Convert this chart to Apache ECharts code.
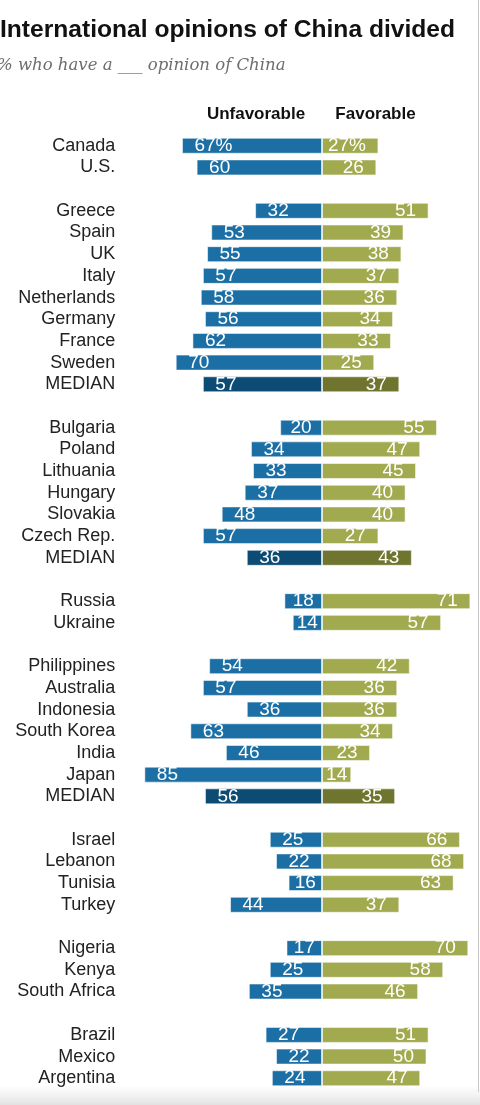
<!DOCTYPE html>
<html>
<head>
<meta charset="utf-8">
<script src="https://cdn.jsdelivr.net/npm/echarts@6/dist/echarts.min.js"></script>
<style>
html,body{margin:0;padding:0;background:#fff;}
#chart{width:480px;height:1105px;}
</style>
</head>
<body>
<div id="chart"></div>
<script>
// Rows top to bottom; '' = spacer row between groups
const countries = ['Canada','U.S.','',
  'Greece','Spain','UK','Italy','Netherlands','Germany','France','Sweden','MEDIAN','',
  'Bulgaria','Poland','Lithuania','Hungary','Slovakia','Czech Rep.','MEDIAN','',
  'Russia','Ukraine','',
  'Philippines','Australia','Indonesia','South Korea','India','Japan','MEDIAN','',
  'Israel','Lebanon','Tunisia','Turkey','',
  'Nigeria','Kenya','South Africa','',
  'Brazil','Mexico','Argentina'];
const unfavorable = [67,60,null,
  32,53,55,57,58,56,62,70,57,null,
  20,34,33,37,48,57,36,null,
  18,14,null,
  54,57,36,63,46,85,56,null,
  25,22,16,44,null,
  17,25,35,null,
  27,22,24];
const favorable = [27,26,null,
  51,39,38,37,36,34,33,25,37,null,
  55,47,45,40,40,27,43,null,
  71,57,null,
  42,36,36,34,23,14,35,null,
  66,68,63,37,null,
  70,58,46,null,
  51,50,47];
const percentRow = 0; // first row shows the % sign

const BLUE = '#1b6fa5', BLUE_MED = '#0c4b74';
const GREEN = '#a1aa4e', GREEN_MED = '#6f752f';
const PX_PER_UNIT = 334.4 / 160;
const LABEL_SIZE = 19;

const chart = echarts.init(document.getElementById('chart'), null, {renderer:'canvas'});

// label inset from the bar's outer end; shrinks on short bars so the number stays inside
function inset(v) {
  const barPx = v * PX_PER_UNIT;
  const textPx = 2 * LABEL_SIZE * 0.556;
  return Math.max(2, Math.min(12.5, (barPx - textPx) / 2));
}

const unfData = unfavorable.map((v, i) => v == null ? null : {
  value: -v,
  itemStyle: {color: countries[i] === 'MEDIAN' ? BLUE_MED : BLUE},
  label: {distance: inset(v)}
});
const favData = favorable.map((v, i) => v == null ? null : {
  value: v,
  itemStyle: {color: countries[i] === 'MEDIAN' ? GREEN_MED : GREEN},
  label: {distance: inset(v)}
});

const labelFmt = p => {
  const v = Math.abs(p.value);
  return p.dataIndex === percentRow ? v + '%' : String(v);
};

chart.setOption({
  animation: false,
  grid: {left: 144.35, width: 334.4, top: 134.9, height: 954.2, containLabel: false},
  xAxis: {
    type: 'value', min: -85, max: 75, show: false
  },
  yAxis: {
    type: 'category', data: countries, inverse: true,
    axisLine: {show: false}, axisTick: {show: false}, splitLine: {show: false},
    axisLabel: {
      interval: 0, margin: 29, fontSize: 18, color: '#222',
      fontFamily: 'Liberation Sans, Arial, sans-serif'
    }
  },
  series: [
    {
      type: 'bar', name: 'Unfavorable', data: unfData, barWidth: 16, barGap: '-100%',
      itemStyle: {borderColor: 'rgba(255,255,255,0.55)', borderWidth: 1},
      label: {
        show: true, position: 'insideLeft', formatter: labelFmt,
        color: '#fff', fontSize: LABEL_SIZE, fontFamily: 'Liberation Sans, Arial, sans-serif'
      }
    },
    {
      type: 'bar', name: 'Favorable', data: favData, barWidth: 16, barGap: '-100%',
      itemStyle: {borderColor: 'rgba(255,255,255,0.55)', borderWidth: 1},
      label: {
        show: true, position: 'insideRight', formatter: labelFmt,
        color: '#fff', fontSize: LABEL_SIZE, fontFamily: 'Liberation Sans, Arial, sans-serif'
      }
    }
  ],
  graphic: [
    {type: 'text', left: 0, top: 18, style: {
      text: 'International opinions of China divided',
      fontSize: 24.6, fontWeight: 'bold', fill: '#111',
      fontFamily: 'Liberation Sans, Arial, sans-serif'
    }},
    {type: 'text', left: -3, top: 57, style: {
      text: '% who have a ___ opinion of China',
      fontSize: 16.5, fontStyle: 'italic', fill: '#6e6e6e',
      fontFamily: 'DejaVu Serif, Georgia, serif'
    }},
    {type: 'text', x: 256, y: 114, style: {
      text: 'Unfavorable', fontSize: 17, fontWeight: 'bold', fill: '#111',
      align: 'center', verticalAlign: 'middle',
      fontFamily: 'Liberation Sans, Arial, sans-serif'
    }},
    {type: 'text', x: 375.5, y: 114, style: {
      text: 'Favorable', fontSize: 17, fontWeight: 'bold', fill: '#111',
      align: 'center', verticalAlign: 'middle',
      fontFamily: 'Liberation Sans, Arial, sans-serif'
    }},
    {type: 'line', shape: {x1: 478.5, y1: 0, x2: 478.5, y2: 1092},
      style: {stroke: '#c8c8c8', lineWidth: 1}},
    {type: 'rect', shape: {x: 0, y: 1085, width: 480, height: 20},
      style: {fill: new echarts.graphic.LinearGradient(0, 0, 0, 1, [
        {offset: 0, color: 'rgba(235,235,235,0)'},
        {offset: 1, color: 'rgba(225,225,225,1)'}
      ])}, z: -1}
  ]
});
</script>
</body>
</html>
